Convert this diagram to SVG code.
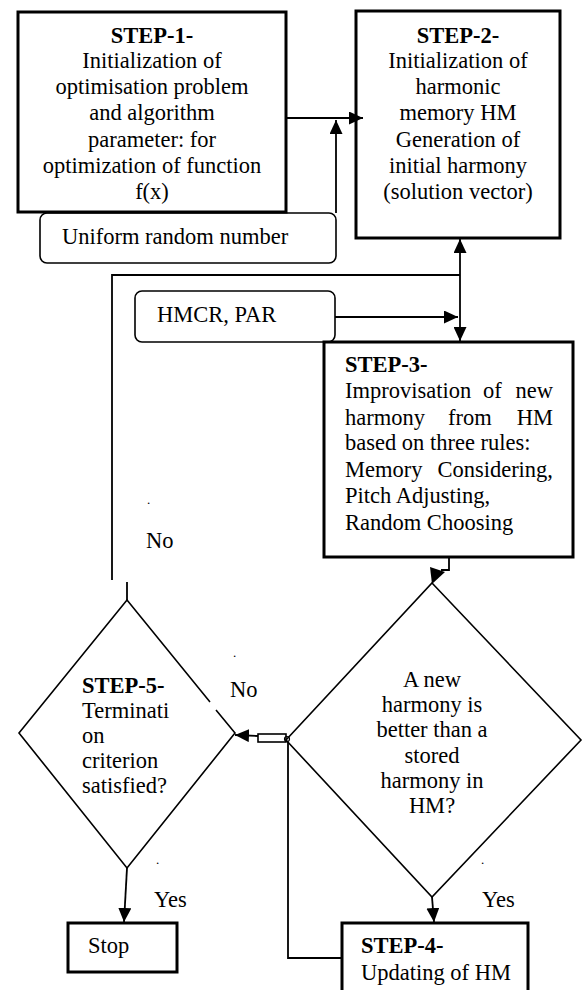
<svg xmlns="http://www.w3.org/2000/svg" width="583" height="990" viewBox="0 0 583 990">
  <style>
    text { font-family: "Liberation Serif", "Times New Roman", serif; font-size: 22.5px; fill: #000; }
    .b { font-weight: bold; }
    .c { text-anchor: middle; }
    .e { text-anchor: end; }
    .dot { font-size: 13px; }
    .box { fill: #fff; stroke: #000; stroke-width: 3; }
    .rbox { fill: #fff; stroke: #000; stroke-width: 1.6; }
    .dia { fill: none; stroke: #000; stroke-width: 1.6; }
    .ln { fill: none; stroke: #000; stroke-width: 1.8; }
  </style>
  <defs>
    <marker id="arrow" markerUnits="userSpaceOnUse" markerWidth="14" markerHeight="13" refX="14" refY="6.5" orient="auto">
      <path d="M0,0 L14,6.5 L0,13 z" fill="#000"/>
    </marker>
  </defs>

  <!-- rounded input boxes -->
  <g id="uniform">
    <rect class="rbox" x="40" y="213" width="296" height="50" rx="7"/>
    <text x="62" y="244">Uniform random number</text>
  </g>
  <g id="hmcr">
    <rect class="rbox" x="135" y="291" width="200" height="51" rx="7"/>
    <text x="157" y="322">HMCR, PAR</text>
  </g>

  <g id="step1">
    <rect class="box" x="18" y="12" width="268" height="200"/>
    <text class="c b" x="152" y="43">STEP-1-</text>
    <text class="c" x="152" y="68">Initialization of</text>
    <text class="c" x="152" y="94">optimisation problem</text>
    <text class="c" x="152" y="120">and algorithm</text>
    <text class="c" x="152" y="147">parameter: for</text>
    <text class="c" x="152" y="173">optimization of function</text>
    <text class="c" x="152" y="199">f(x)</text>
  </g>

  <g id="step2">
    <rect class="box" x="356" y="11" width="204" height="227"/>
    <text class="c b" x="458" y="43">STEP-2-</text>
    <text class="c" x="458" y="68">Initialization of</text>
    <text class="c" x="458" y="94">harmonic</text>
    <text class="c" x="458" y="120">memory HM</text>
    <text class="c" x="458" y="147">Generation of</text>
    <text class="c" x="458" y="173">initial harmony</text>
    <text class="c" x="458" y="199">(solution vector)</text>
  </g>

  <g id="step3">
    <rect class="box" x="324" y="342" width="249" height="215"/>
    <text class="b" x="345" y="372">STEP-3-</text>
    <text x="345" y="398">Improvisation</text>
    <text x="483" y="398">of</text>
    <text class="e" x="553" y="398">new</text>
    <text x="345" y="425">harmony</text>
    <text x="448" y="425">from</text>
    <text class="e" x="553" y="425">HM</text>
    <text x="345" y="450">based on three rules:</text>
    <text x="345" y="477">Memory</text>
    <text class="e" x="553" y="477">Considering,</text>
    <text x="345" y="503">Pitch Adjusting,</text>
    <text x="345" y="530">Random Choosing</text>
  </g>

  <g id="decision">
    <path class="dia" d="M432,583 L581,740 L432,897 L286,740 Z"/>
    <text class="c" x="432" y="687">A new</text>
    <text class="c" x="432" y="712">harmony is</text>
    <text class="c" x="432" y="737">better than a</text>
    <text class="c" x="432" y="763">stored</text>
    <text class="c" x="432" y="788">harmony in</text>
    <text class="c" x="432" y="813">HM?</text>
  </g>

  <g id="step5">
    <path class="dia" d="M216,710 L235,733 L127,868 L19,733 L127,600 L210,702"/>
    <text class="b" x="82" y="693">STEP-5-</text>
    <text x="82" y="718">Terminati</text>
    <text x="82" y="743">on</text>
    <text x="82" y="768">criterion</text>
    <text x="82" y="793">satisfied?</text>
  </g>

  <g id="stop">
    <rect class="box" x="68" y="923" width="109" height="49"/>
    <text x="88" y="953">Stop</text>
  </g>

  <g id="step4">
    <rect class="box" x="342" y="923" width="186" height="75"/>
    <text class="b" x="361" y="953">STEP-4-</text>
    <text x="361" y="980">Updating of HM</text>
  </g>

  <g id="connectors">
    <!-- step 1 to step 2 -->
    <line class="ln" x1="286" y1="118" x2="363" y2="118" marker-end="url(#arrow)"/>
    <!-- uniform random number feed -->
    <line class="ln" x1="336" y1="213" x2="336" y2="120" marker-end="url(#arrow)"/>
    <!-- loop back from step 5 -->
    <polyline class="ln" points="112,580 112,275 460,275"/>
    <line class="ln" x1="127" y1="582" x2="127" y2="600"/>
    <line class="ln" x1="460" y1="275" x2="460" y2="239" marker-end="url(#arrow)"/>
    <line class="ln" x1="460" y1="275" x2="460" y2="341" marker-end="url(#arrow)"/>
    <!-- HMCR, PAR feed -->
    <line class="ln" x1="335" y1="317" x2="458" y2="317" marker-end="url(#arrow)"/>
    <!-- step 3 to decision -->
    <polyline class="ln" points="449,558 449,570 441,570"/>
    <polygon points="430,567 445,572 432,584" fill="#000"/>
    <!-- decision "No" to step 5 -->
    <rect x="258" y="734" width="28" height="8" fill="none" stroke="#000" stroke-width="1.6"/>
    <circle cx="287" cy="739" r="2.5" fill="none" stroke="#000" stroke-width="1.2"/>
    <line class="ln" x1="258" y1="736" x2="235" y2="735" marker-end="url(#arrow)"/>
    <!-- decision "Yes" to step 4 -->
    <line class="ln" x1="432" y1="897" x2="434" y2="922" marker-end="url(#arrow)"/>
    <!-- step 4 back to decision output -->
    <polyline class="ln" points="342,958 288,958 288,742"/>
    <!-- step 5 "Yes" to stop -->
    <line class="ln" x1="127" y1="868" x2="124" y2="922" marker-end="url(#arrow)"/>
  </g>

  <g id="labels">
    <text class="dot" x="147" y="504">.</text>
    <text x="146" y="548">No</text>
    <text class="dot" x="233" y="657">.</text>
    <text x="230" y="697">No</text>
    <text class="dot" x="156" y="864">.</text>
    <text x="154" y="907">Yes</text>
    <text class="dot" x="481" y="864">.</text>
    <text x="482" y="907">Yes</text>
  </g>
</svg>
